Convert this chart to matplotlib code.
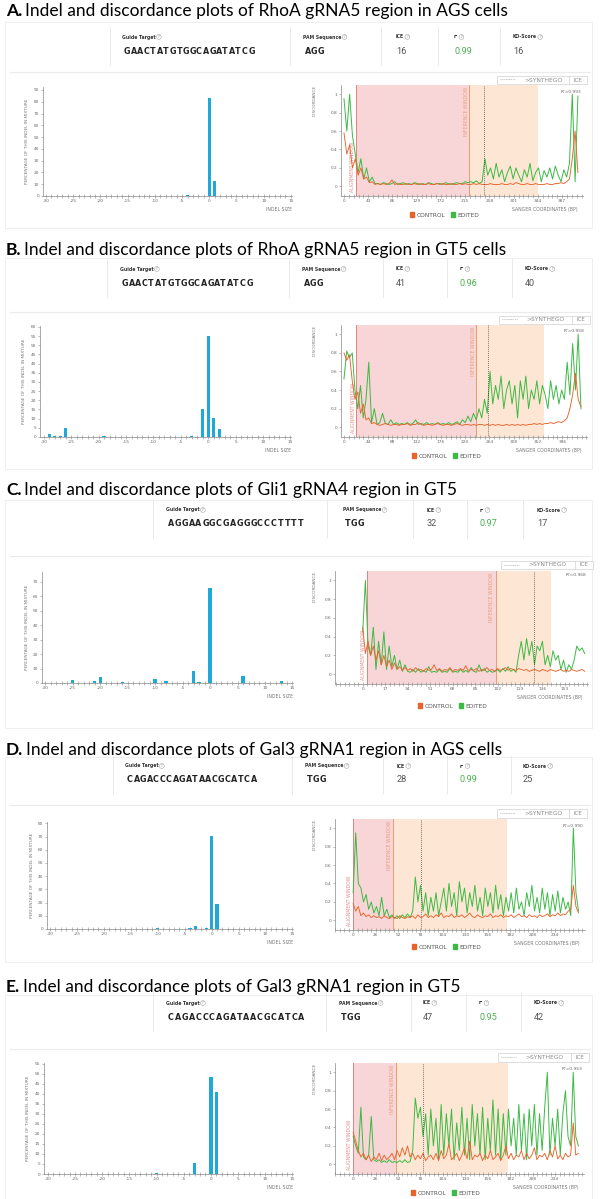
import matplotlib
matplotlib.use("Agg")
import matplotlib.pyplot as plt
import numpy as np
from matplotlib.patches import Rectangle, Patch
from matplotlib.lines import Line2D
from matplotlib.ticker import MultipleLocator, FuncFormatter

W, H = 602, 1199

# ---------------- data ----------------
titles = [("A.", "Indel and discordance plots of RhoA gRNA5 region in AGS cells"),
          ("B.", "Indel and discordance plots of RhoA gRNA5 region in GT5 cells"),
          ("C.", "Indel and discordance plots of Gli1 gRNA4 region in GT5"),
          ("D.", "Indel and discordance plots of Gal3 gRNA1 region in AGS cells"),
          ("E.", "Indel and discordance plots of Gal3 gRNA1 region in GT5")]
guides = ["GAACTATGTGGCAGATATCG", "GAACTATGTGGCAGATATCG", "AGGAAGGCGAGGGCCCTTTT",
          "CAGACCCAGATAACGCATCA", "CAGACCCAGATAACGCATCA"]
pams = ["AGG", "AGG", "TGG", "TGG", "TGG"]
ice_scores = [16, 41, 32, 28, 47]
r2_scores = ["0.99", "0.96", "0.97", "0.99", "0.95"]
ko_scores = [16, 40, 17, 25, 42]
fit_r2 = ["0.993", "0.958", "0.968", "0.990", "0.953"]

a_sizes = [-4, -2, -1, 0, 1]
a_pct = [1.0, 0.3, 0.3, 83, 13]
b_sizes = [-29, -28, -27, -26, -19, -12, -5, -3, -1, 0, 1, 2]
b_pct = [1.5, 0.8, 0.6, 5.1, 0.3, 0.2, 0.2, 0.8, 15.3, 55, 10.6, 4.4]
c_sizes = [-25, -21, -20, -16, -10, -8, -3, -2, 0, 3, 6, 13]
c_pct = [2.1, 1.5, 4.4, 0.8, 2.8, 1.5, 8.6, 0.5, 65.6, 0.3, 4.9, 1.5]
d_sizes = [-10, -7, -4, -3, -1, 0, 1]
d_pct = [1.0, 0.3, 1.0, 2.5, 1.0, 70.4, 18.7]
e_sizes = [-10, -3, 0, 1]
e_pct = [0.5, 5.3, 48.3, 40.8]

# discordance traces (sampled every a_step / b_step ... bp)
a_step = 5
a_edited = [0.95, 0.6, 1.0, 0.55, 0.35, 0.15, 0.3, 0.08, 0.2, 0.05, 0.1, 0.03,
            0.03, 0.02, 0.04, 0.03, 0.02, 0.03, 0.05, 0.02, 0.03, 0.04, 0.02, 0.03, 0.02, 0.04, 0.03,
            0.02, 0.03, 0.02, 0.04, 0.03, 0.02, 0.03, 0.03, 0.02, 0.04, 0.03, 0.02, 0.03, 0.04, 0.03,
            0.03, 0.05, 0.04,
            0.05, 0.04, 0.06, 0.03, 0.05,
            0.3, 0.12, 0.2, 0.08, 0.25, 0.1, 0.18, 0.05, 0.15, 0.22, 0.08, 0.2, 0.12, 0.05, 0.18, 0.1,
            0.25, 0.06, 0.15, 0.2, 0.05, 0.17, 0.1, 0.2, 0.08, 0.22, 0.12, 0.05, 0.18, 0.1, 0.25,
            1.0, 0.05, 0.98]
a_control = [0.58, 0.35, 0.45, 0.2, 0.3, 0.12, 0.2, 0.08, 0.1, 0.04, 0.05,
             0.02, 0.03, 0.02, 0.03, 0.02, 0.03, 0.07, 0.02, 0.03, 0.02,
             0.02, 0.03, 0.02, 0.02, 0.03, 0.02, 0.03, 0.02, 0.02, 0.03,
             0.02, 0.02, 0.03, 0.02, 0.03, 0.02, 0.02, 0.03, 0.02, 0.02,
             0.03, 0.02, 0.03, 0.02, 0.02, 0.03, 0.02, 0.03, 0.02, 0.02,
             0.02, 0.03, 0.02, 0.02, 0.02, 0.03, 0.02, 0.02, 0.03, 0.02,
             0.04, 0.03, 0.02, 0.02, 0.03, 0.02, 0.02, 0.03, 0.02, 0.02,
             0.02, 0.03, 0.02, 0.02, 0.03, 0.03, 0.04, 0.03, 0.05,
             0.08, 0.3, 0.6, 0.15]

b_step = 5
b_edited = [0.52, 0.82, 0.75, 0.8, 0.4, 0.2, 0.45, 0.1, 0.3, 0.7, 0.05, 0.2, 0.03,
            0.05, 0.15, 0.04, 0.03, 0.08, 0.03, 0.05, 0.03, 0.04, 0.03,
            0.05, 0.03, 0.04, 0.08, 0.03, 0.04, 0.03, 0.05, 0.03, 0.04,
            0.03, 0.05, 0.03, 0.04, 0.03, 0.05, 0.03, 0.04, 0.06, 0.03,
            0.08, 0.05, 0.12, 0.06, 0.15, 0.08, 0.2, 0.1, 0.3, 0.15,
            0.6, 0.25, 0.45, 0.3, 0.55, 0.2, 0.4, 0.5, 0.25, 0.45,
            0.1, 0.5, 0.3, 0.55, 0.2, 0.4, 0.3, 0.5, 0.25, 0.45,
            0.35, 0.2, 0.5, 0.3, 0.45, 0.25, 0.4, 0.3, 0.7, 0.35,
            0.9, 0.4, 1.0, 0.2]
b_control = [0.8, 0.72, 0.78, 0.5, 0.3, 0.38, 0.15, 0.25, 0.08, 0.1, 0.04, 0.05,
             0.03, 0.02, 0.03, 0.04, 0.03, 0.02, 0.03, 0.03, 0.02, 0.03,
             0.03, 0.04, 0.02, 0.03, 0.03, 0.05, 0.03, 0.02, 0.03, 0.03,
             0.02, 0.03, 0.04, 0.03, 0.02, 0.03, 0.03, 0.02, 0.03, 0.04,
             0.03, 0.02, 0.03, 0.03, 0.02, 0.03, 0.02, 0.03, 0.03, 0.02,
             0.03, 0.02, 0.03, 0.02, 0.03, 0.02, 0.02, 0.03, 0.02, 0.03,
             0.02, 0.03, 0.02, 0.03, 0.02, 0.03, 0.03, 0.04, 0.03, 0.04,
             0.03, 0.04, 0.04, 0.05, 0.04, 0.05, 0.06, 0.05,
             0.07, 0.1, 0.2, 0.35, 0.58, 0.3, 0.22]

c_step = 2
c_edited = [0.45, 1.0, 0.3, 0.2, 0.5, 0.05, 0.35, 0.1, 0.45, 0.05,
            0.3, 0.08, 0.2, 0.05, 0.15, 0.03, 0.1, 0.03, 0.02, 0.05,
            0.02, 0.06, 0.02, 0.04, 0.02, 0.08, 0.02, 0.03, 0.02, 0.05,
            0.02, 0.03, 0.02, 0.06, 0.02, 0.03, 0.02, 0.05, 0.02, 0.04,
            0.02, 0.07, 0.03, 0.02, 0.1, 0.03, 0.06, 0.02, 0.04, 0.02,
            0.03, 0.05, 0.02, 0.06, 0.03, 0.08, 0.03, 0.05, 0.02, 0.2,
            0.35, 0.15, 0.38, 0.2, 0.35, 0.1, 0.3, 0.25, 0.35, 0.1,
            0.2, 0.08, 0.25, 0.15, 0.2, 0.05, 0.15, 0.02, 0.1, 0.05,
            0.15, 0.3, 0.25, 0.28, 0.22]
c_control = [0.5, 0.22, 0.35, 0.2, 0.3, 0.15, 0.25, 0.1, 0.2, 0.08,
             0.15, 0.05, 0.12, 0.05, 0.08, 0.04, 0.07, 0.04, 0.06, 0.03,
             0.07, 0.04, 0.05, 0.03, 0.06, 0.04, 0.05, 0.1, 0.04, 0.06,
             0.03, 0.05, 0.04, 0.07, 0.03, 0.05, 0.04, 0.06, 0.04, 0.09,
             0.03, 0.05, 0.04, 0.06, 0.03, 0.05, 0.04, 0.07, 0.04, 0.05,
             0.03, 0.06, 0.04, 0.05, 0.07, 0.04, 0.06, 0.05, 0.04, 0.06,
             0.05, 0.04, 0.05, 0.03, 0.04, 0.05, 0.04, 0.03, 0.05, 0.04,
             0.03, 0.05, 0.04, 0.03, 0.04, 0.05, 0.03, 0.04, 0.03, 0.05,
             0.04, 0.03, 0.04, 0.05, 0.03]

d_step = 3
d_edited = [0.3, 0.95, 0.4, 0.35, 0.2, 0.28, 0.12, 0.2, 0.08, 0.15,
            0.05, 0.25, 0.05, 0.12, 0.03, 0.06, 0.02, 0.05, 0.02, 0.06,
            0.03, 0.07, 0.03, 0.1, 0.47, 0.2, 0.38, 0.1, 0.3, 0.05,
            0.25, 0.1, 0.3, 0.05, 0.2, 0.35, 0.1, 0.4, 0.15, 0.3,
            0.05, 0.42, 0.2, 0.35, 0.08, 0.3, 0.15, 0.38, 0.1, 0.25,
            0.05, 0.35, 0.15, 0.3, 0.08, 0.38, 0.12, 0.28, 0.05, 0.25,
            0.1, 0.3, 0.08, 0.35, 0.12, 0.2, 0.05, 0.3, 0.15, 0.38,
            0.1, 0.25, 0.08, 0.35, 0.12, 0.3, 0.05, 0.28, 0.1, 0.32,
            0.08, 0.25, 0.12, 0.2, 0.05, 1.0, 0.3, 0.1]
d_control = [0.18, 0.1, 0.15, 0.05, 0.08, 0.04, 0.06, 0.03, 0.05, 0.03,
             0.04, 0.02, 0.05, 0.03, 0.02, 0.04, 0.03, 0.02, 0.05, 0.03,
             0.02, 0.04, 0.03, 0.05, 0.02, 0.06, 0.03, 0.04, 0.07, 0.03,
             0.05, 0.03, 0.06, 0.04, 0.08, 0.03, 0.05, 0.04, 0.07, 0.03,
             0.05, 0.04, 0.06, 0.03, 0.05, 0.08, 0.04, 0.03, 0.06, 0.04,
             0.03, 0.05, 0.04, 0.07, 0.03, 0.05, 0.04, 0.06, 0.03, 0.05,
             0.04, 0.06, 0.03, 0.05, 0.07, 0.04, 0.05, 0.03, 0.06, 0.04,
             0.05, 0.03, 0.06, 0.04, 0.05, 0.07, 0.04, 0.06, 0.05, 0.08,
             0.05, 0.07, 0.06, 0.1, 0.12, 0.38, 0.15, 0.08]

e_step = 3
e_edited = [0.3, 0.2, 0.12, 0.62, 0.08, 0.05, 0.1, 0.52, 0.05, 0.03,
            0.05, 0.02, 0.04, 0.02, 0.05, 0.02, 0.03, 0.02, 0.04, 0.02,
            0.05, 0.02, 0.03, 0.15, 0.72, 0.5, 0.62, 0.3, 0.55, 0.1,
            0.6, 0.2, 0.5, 0.05, 0.65, 0.1, 0.55, 0.2, 0.6, 0.05,
            0.45, 0.15, 0.62, 0.1, 0.5, 0.05, 0.65, 0.2, 0.55, 0.1,
            0.62, 0.05, 0.5, 0.15, 0.7, 0.1, 0.6, 0.05, 0.55, 0.1,
            0.6, 0.2, 0.5, 0.1, 0.65, 0.15, 0.55, 0.05, 0.6, 0.2,
            0.65, 0.1, 0.55, 0.15, 0.62, 1.0, 0.1, 0.5, 0.2, 0.6,
            0.1, 0.55, 0.8, 0.3, 0.2, 1.0, 0.3, 0.2]
e_control = [0.35, 0.25, 0.15, 0.08, 0.12, 0.05, 0.1, 0.03, 0.08, 0.05,
             0.12, 0.04, 0.1, 0.05, 0.08, 0.12, 0.05, 0.15, 0.08, 0.18,
             0.1, 0.2, 0.08, 0.12, 0.05, 0.1, 0.06, 0.12, 0.04, 0.08,
             0.1, 0.05, 0.12, 0.04, 0.15, 0.06, 0.1, 0.22, 0.05, 0.08,
             0.12, 0.04, 0.1, 0.18, 0.06, 0.25, 0.05, 0.1, 0.08, 0.12,
             0.04, 0.1, 0.06, 0.15, 0.05, 0.08, 0.12, 0.04, 0.1, 0.2,
             0.06, 0.12, 0.05, 0.1, 0.08, 0.15, 0.05, 0.12, 0.06, 0.1,
             0.18, 0.05, 0.1, 0.08, 0.12, 0.05, 0.15, 0.08, 0.2, 0.06,
             0.1, 0.05, 0.12, 0.08, 0.1, 0.45, 0.1, 0.12]

# windows: alignment start, inference start, window end, cut site, tick step
a_win = (21, 222, 345, 249, 43)
b_win = (22, 240, 363, 262, 44)
c_win = (3.5, 100.6, 142.5, 130, 17)
d_win = (0, 46, 178, 79, 26)
e_win = (0, 50, 179, 81, 26)

BAR = '#1fa8d8'
GREEN = '#3cba45'
ORANGE = '#e8632b'
PINK = '#f8d5d6'
PEACH = '#fde7d4'

# ---------------- layout ----------------
panels = [
    dict(title_y=11, label_y=37, value_y=51, seps=[110, 290, 381, 438, 500], lx=[122, 303, 396, 454, 513],
         gstep=6.55, line_y=72, frame=(5, 22, 592, 228),
         ibox=(43, 87, 292, 196), ixlim=(-30.55, 15.2), iylim=(0, 92.5), iystep=10, iylab=27,
         sizes=a_sizes, pct=a_pct,
         dbox=(341, 85, 583, 196), dxlim=(-5.3, 424), win=a_win, ed=a_edited, ct=a_control, step=a_step,
         badge=(497, 76, 587, 84), r2y=92, leg=(445, 215)),
    dict(title_y=250, label_y=269, value_y=283, seps=[107, 289, 383, 447, 512], lx=[120, 302, 396, 460, 525],
         gstep=6.55, line_y=312, frame=(5, 258, 592, 469),
         ibox=(40, 326, 291, 437), ixlim=(-30.7, 15.1), iylim=(0, 60.5), iystep=5, iylab=24,
         sizes=b_sizes, pct=b_pct,
         dbox=(341, 325, 587, 437), dxlim=(-5.4, 441), win=b_win, ed=b_edited, ct=b_control, step=b_step,
         badge=(499, 316, 590, 324), r2y=331, leg=(447, 456)),
    dict(title_y=490, label_y=510, value_y=524, seps=[153, 327, 413, 467, 523], lx=[166, 343, 427, 480, 537],
         gstep=6.85, line_y=556, frame=(5, 500, 592, 728),
         ibox=(42, 572, 293, 683), ixlim=(-30.6, 15.1), iylim=(0, 76.8), iystep=10, iylab=27,
         sizes=c_sizes, pct=c_pct,
         dbox=(335, 571, 588, 684), dxlim=(-21, 170.5), win=c_win, ed=c_edited, ct=c_control, step=c_step,
         badge=(501, 561, 593, 569), r2y=575, leg=(453, 706)),
    dict(title_y=750, label_y=766, value_y=780, seps=[113, 292, 383, 447, 511], lx=[125, 305, 397, 460, 523],
         gstep=6.5, line_y=805, frame=(5, 757, 592, 962),
         ibox=(47, 822, 293, 929), ixlim=(-30.55, 15.1), iylim=(0, 81), iystep=10, iylab=32,
         sizes=d_sizes, pct=d_pct,
         dbox=(335, 819, 585, 930), dxlim=(-21, 268.5), win=d_win, ed=d_edited, ct=d_control, step=d_step,
         badge=(497, 809, 587, 818), r2y=826, leg=(447, 947)),
    dict(title_y=987, label_y=1003, value_y=1017, seps=[153, 326, 411, 466, 521], lx=[166, 339, 423, 479, 534],
         gstep=6.85, line_y=1049, frame=(5, 995, 592, 1205),
         ibox=(44, 1063, 293, 1174), ixlim=(-30.7, 15.1), iylim=(0, 55.3), iystep=5, iylab=28,
         sizes=e_sizes, pct=e_pct,
         dbox=(335, 1063, 584, 1174), dxlim=(-21, 267.5), win=e_win, ed=e_edited, ct=e_control, step=e_step,
         badge=(498, 1053, 589, 1062), r2y=1069, leg=(446, 1193)),
]

fig = plt.figure(figsize=(W / 100, H / 100), dpi=100)
fig.patch.set_facecolor('white')
renderer = fig.canvas.get_renderer()


def fx(x):
    return x / W


def fy(y):
    return 1 - y / H


def ftext(x, y, s, **kw):
    return fig.text(fx(x), fy(y), s, **kw)


def fline(xs, ys, color, lw=0.6):
    fig.add_artist(Line2D([fx(v) for v in xs], [fy(v) for v in ys], color=color, lw=lw,
                          transform=fig.transFigure))


def px_axes(box):
    x0, y0, x1, y1 = box
    return fig.add_axes([fx(x0), fy(y1), (x1 - x0) / W, (y1 - y0) / H])


def style_axes(ax):
    for s in ['top', 'right']:
        ax.spines[s].set_visible(False)
    for s in ['left', 'bottom']:
        ax.spines[s].set_color('#888888')
        ax.spines[s].set_linewidth(0.5)
    ax.tick_params(labelsize=3.1, colors='#888888', labelcolor='#666666', length=1.6, width=0.4, pad=1.2)
    ax.tick_params(which='minor', length=1.6, width=0.4, colors='#888888')
    ax.tick_params(axis='x', which='both', direction='inout', length=2.4)


# title font size fitted to the width of panel A title
tmp = ftext(0, 0, titles[0][0] + " " + titles[0][1], fontsize=10, family='Lato')
tw = tmp.get_window_extent(renderer).width
tmp.remove()
TS = 10 * 500 / tw

for i, p in enumerate(panels):
    # title
    t1 = ftext(6, p['title_y'], titles[i][0], fontsize=TS, fontweight='bold', family='Lato', va='center')
    bb = t1.get_window_extent(renderer)
    ftext(bb.x1 + 3, p['title_y'], titles[i][1], fontsize=TS, family='Lato', va='center')

    # frame and header
    x0, y0, x1, y1 = p['frame']
    fig.add_artist(Rectangle((fx(x0), fy(y1)), (x1 - x0) / W, (y1 - y0) / H, transform=fig.transFigure,
                             fc='none', ec='#ececec', lw=0.6))
    fline([10, 590], [p['line_y'], p['line_y']], '#ebebeb', 0.8)
    for s in p['seps']:
        fline([s, s], [p['label_y'] - 10, p['value_y'] + 14], '#e6e6e6', 0.6)
    names = ['Guide Target', 'PAM Sequence', 'ICE', 'r²', 'KO-Score']
    for x, n in zip(p['lx'], names):
        t = ftext(x, p['label_y'], n, fontsize=3.3, fontweight='bold', color='#333333', va='center')
        bbl = t.get_window_extent(renderer)
        fig.text((bbl.x1 + 3.2) / W, fy(p['label_y']), '?', fontsize=2.3, color='#777777', va='center',
                 ha='center', bbox=dict(boxstyle='circle,pad=0.12', fc='none', ec='#888888', lw=0.3))
    for k, ch in enumerate(guides[i]):
        ftext(p['lx'][0] + 2 + k * p['gstep'], p['value_y'], ch, fontsize=5.8, fontweight='bold',
              color='#222222', va='center', ha='left')
    for k, ch in enumerate(pams[i]):
        ftext(p['lx'][1] + 2 + k * 6.1, p['value_y'], ch, fontsize=5.8, fontweight='bold',
              color='#222222', va='center', ha='left')
    ftext(p['lx'][2], p['value_y'], str(ice_scores[i]), fontsize=6.6, family='Roboto', color='#555555',
          va='center')
    ftext(p['lx'][3], p['value_y'], r2_scores[i], fontsize=6.6, family='Roboto', color='#4cb050', va='center')
    ftext(p['lx'][4], p['value_y'], str(ko_scores[i]), fontsize=6.6, family='Roboto', color='#555555',
          va='center')

    # indel bar chart
    ax = px_axes(p['ibox'])
    ax.bar(p['sizes'], p['pct'], width=0.6, color=BAR, zorder=2)
    ax.set_xlim(p['ixlim'])
    ax.set_ylim(p['iylim'])
    ax.xaxis.set_major_locator(MultipleLocator(5))
    ax.xaxis.set_minor_locator(MultipleLocator(1))
    ax.yaxis.set_major_locator(MultipleLocator(p['iystep']))
    ax.xaxis.set_major_formatter(FuncFormatter(lambda v, pos: '%d' % v))
    style_axes(ax)
    bx0, by0, bx1, by1 = p['ibox']
    ax.text((p['iylab'] - bx0) / (bx1 - bx0), 0.5, 'PERCENTAGE OF THIS INDEL IN MIXTURE', rotation=90,
            transform=ax.transAxes, ha='center', va='center', fontsize=3.1, color='#777777')
    ax.text(1.0, -0.1, 'INDEL SIZE', transform=ax.transAxes, ha='right', va='top', fontsize=3.3,
            color='#777777')

    # discordance plot
    al, inf, wend, cut, tstep = p['win']
    dx = px_axes(p['dbox'])
    dx.axvspan(al, inf, color=PINK, lw=0, zorder=0)
    dx.axvspan(inf, wend, color=PEACH, lw=0, zorder=0)
    dx.axvline(al, color='#e38282', lw=0.7, zorder=1)
    dx.axvline(inf, color='#e99a78', lw=0.7, zorder=1)
    dx.axvline(cut, color='#333333', lw=0.55, ls=(0, (1.0, 1.6)), zorder=3)
    xe = np.arange(len(p['ed'])) * p['step']
    xc = np.arange(len(p['ct'])) * p['step']
    dx.plot(xe, p['ed'], color=GREEN, lw=0.7, zorder=2)
    dx.plot(xc, p['ct'], color=ORANGE, lw=0.65, zorder=2)
    dx.set_xlim(p['dxlim'])
    dx.set_ylim(-0.105, 1.1)
    dx.set_xticks(np.arange(0, tstep * 10, tstep))
    dx.xaxis.set_minor_locator(MultipleLocator(tstep / 5))
    dx.set_yticks([0, 0.2, 0.4, 0.6, 0.8, 1.0])
    dx.yaxis.set_major_formatter(FuncFormatter(lambda v, pos: '%g' % round(v, 1)))
    style_axes(dx)
    dbx0, dby0, dbx1, dby1 = p['dbox']
    dx.text((315 - dbx0) / (dbx1 - dbx0), 1.0, 'DISCORDANCE', rotation=90, transform=dx.transAxes,
            ha='center', va='top', fontsize=3.1, color='#777777')
    dx.text(1.0 - 5 / (dbx1 - dbx0), -0.1, 'SANGER COORDINATES (BP)', transform=dx.transAxes, ha='right',
            va='top', fontsize=3.3, color='#777777')
    dx.text(al - 1, -0.06, 'ALIGNMENT WINDOW', rotation=90, ha='right', va='bottom', fontsize=3.3,
            color='#e48a8a', zorder=1)
    dx.text(inf - 1, 1.08, 'INFERENCE WINDOW', rotation=90, ha='right', va='top', fontsize=3.3,
            color='#e9a07c', zorder=1)
    ftext(dbx1 - 2, p['r2y'], 'R²=' + fit_r2[i], ha='right', va='center', fontsize=3.2, color='#666666')

    # badge
    gx0, gy0, gx1, gy1 = p['badge']
    fig.add_artist(Rectangle((fx(gx0), fy(gy1)), (gx1 - gx0) / W, (gy1 - gy0) / H, transform=fig.transFigure,
                             fc='white', ec='#d0d0d0', lw=0.5))
    gym = (gy0 + gy1) / 2
    ftext(gx0 + 3, gym, 'POWERED BY', fontsize=1.7, color='#999999', va='center')
    ftext(gx0 + 27, gym, '>SYNTHEGO', fontsize=4.3, color='#8a8a8a', va='center')
    fline([gx1 - 18, gx1 - 18], [gy0, gy1], '#d0d0d0', 0.5)
    ftext(gx1 - 9, gym, 'ICE', fontsize=4.0, color='#8a8a8a', va='center', ha='center')

    # legend
    handles = [Patch(color=ORANGE), Patch(color=GREEN)]
    dx.legend(handles, ['CONTROL', 'EDITED'], loc='center', ncol=2, frameon=False, fontsize=4.2,
              handlelength=0.7, handleheight=0.7, handletextpad=0.4, columnspacing=1.0,
              bbox_to_anchor=(fx(p['leg'][0]), fy(p['leg'][1])), bbox_transform=fig.transFigure,
              labelcolor='#555555')

fig.savefig('out.png', dpi=100, facecolor='white')
